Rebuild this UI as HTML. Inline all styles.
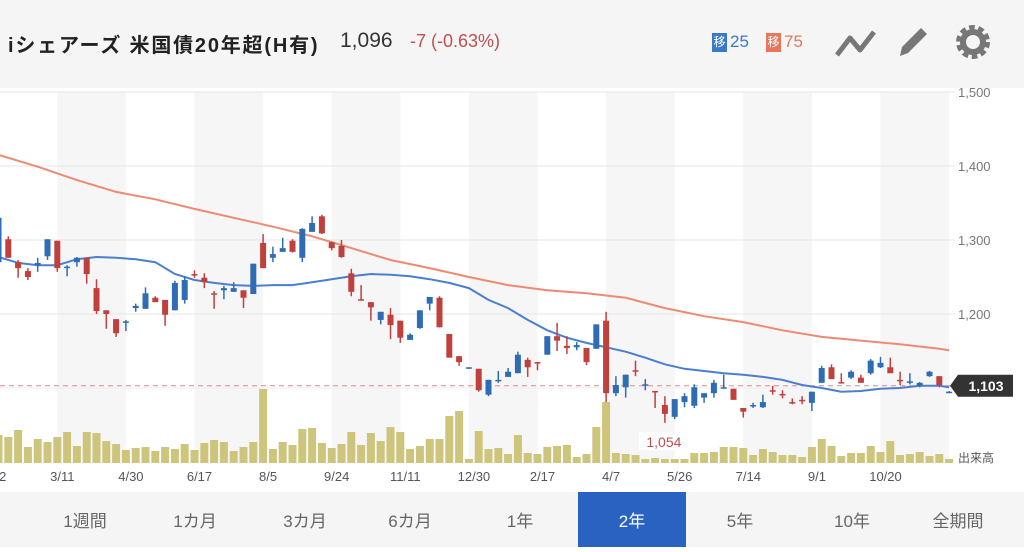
<!DOCTYPE html>
<html><head><meta charset="utf-8">
<style>
html,body{margin:0;padding:0;width:1024px;height:547px;overflow:hidden;background:#fff;font-family:"Liberation Sans","Noto Sans CJK JP",sans-serif;}
#hdr{position:absolute;left:0;top:0;width:1024px;height:88px;background:#f5f5f5;}
#title{position:absolute;left:8px;top:29px;font-size:20px;letter-spacing:1.8px;font-weight:bold;color:#222;white-space:nowrap;}
#price{position:absolute;left:340px;top:29px;font-size:21px;color:#333;}
#chg{position:absolute;left:410px;top:31px;font-size:18px;color:#c0504d;}
.badge{position:absolute;top:33px;width:15px;height:19px;color:#fff;font-size:12px;line-height:19px;text-align:center;}
.bn{position:absolute;top:32px;font-size:17px;}
#tabs{position:absolute;left:0;top:492px;width:1024px;height:55px;background:#f5f5f5;}
.tab{position:absolute;top:0;height:55px;line-height:60px;font-size:17px;color:#666;text-align:center;width:108px;}
.tab.on{background:#2a62c2;color:#fff;}
svg{position:absolute;left:0;top:0;}
</style></head><body>
<div id="hdr">
<div id="title">iシェアーズ 米国債20年超(H有)</div>
<div id="price">1,096</div>
<div id="chg">-7 (-0.63%)</div>
<div class="badge" style="left:712px;background:#3a78c9">移</div>
<div class="bn" style="left:730px;color:#3a78c9">25</div>
<div class="badge" style="left:766px;background:#e8765c">移</div>
<div class="bn" style="left:784px;color:#e8765c">75</div>
<svg width="1024" height="88" style="position:absolute;left:0;top:0">
<polyline points="837,55 850,38 860,50 874,32" fill="none" stroke="#777" stroke-width="5" stroke-linejoin="round"/>
<g><polygon points="900,56 902,47 921,28 927,34 908,53" fill="#777"/></g>
<g><circle cx="973" cy="42" r="13" fill="none" stroke="#777" stroke-width="8" stroke-dasharray="5 3.2"/><circle cx="973" cy="42" r="10" fill="none" stroke="#777" stroke-width="6"/></g>
</svg>
</div>
<svg id="chart" width="1024" height="492"></svg>
<div id="tabs">
<div class="tab" style="left:31px">1週間</div>
<div class="tab" style="left:141px">1カ月</div>
<div class="tab" style="left:251px">3カ月</div>
<div class="tab" style="left:356px">6カ月</div>
<div class="tab" style="left:466px">1年</div>
<div class="tab on" style="left:578px">2年</div>
<div class="tab" style="left:686px">5年</div>
<div class="tab" style="left:798px">10年</div>
<div class="tab" style="left:904px">全期間</div>
</div>
<script>
const openVals=[1270,1301,1270,1258,1266,1278,1299,1262,1270,1276,1235,1205,1193,1188,1208,1207,1222,1219,1205,1219,1254,1249,1228,1232,1230,1232,1227,1296,1276,1284,1299,1276,1311,1332,1297,1292,1255,1220,1216,1192,1199,1191,1165,1181,1214,1222,1173,1143,1126,1126,1091,1109,1115,1120,1138,1135,1145,1170,1157,1155,1154,1153,1191,1093,1101,1124,1103,1096,1077,1061,1081,1076,1087,1093,1100,1099,1073,1075,1074,1097,1092,1081,1084,1080,1107,1128,1108,1114,1114,1120,1128,1128,1111,1108,1103,1116,1116,1094];
const closeVals=[1330,1276,1262,1250,1269,1301,1262,1264,1276,1254,1204,1200,1174,1190,1211,1228,1216,1199,1242,1246,1253,1243,1226,1235,1235,1222,1268,1262,1281,1289,1284,1315,1323,1309,1289,1277,1230,1218,1209,1203,1185,1168,1172,1205,1223,1182,1141,1135,1128,1097,1111,1111,1122,1145,1128,1134,1170,1164,1154,1158,1135,1186,1093,1104,1118,1122,1105,1095,1065,1085,1089,1101,1093,1107,1101,1084,1068,1077,1081,1096,1091,1080,1083,1095,1127,1112,1107,1122,1107,1137,1134,1120,1110,1109,1107,1122,1104,1095];
const highVals=[1334,1305,1273,1262,1276,1301,1299,1266,1277,1276,1247,1205,1193,1192,1214,1236,1224,1219,1245,1251,1259,1255,1231,1238,1243,1232,1268,1308,1291,1303,1301,1316,1332,1334,1298,1300,1261,1239,1216,1203,1208,1191,1174,1205,1223,1224,1173,1143,1128,1126,1111,1123,1127,1149,1141,1135,1170,1188,1170,1162,1154,1186,1203,1116,1118,1137,1112,1096,1089,1085,1093,1105,1093,1111,1118,1099,1073,1080,1091,1103,1097,1086,1089,1095,1130,1132,1120,1124,1118,1139,1142,1141,1122,1120,1108,1123,1116,1096];
const lowVals=[1268,1276,1249,1246,1257,1273,1257,1251,1264,1241,1200,1180,1169,1177,1203,1207,1216,1184,1205,1214,1249,1235,1207,1220,1230,1208,1227,1262,1270,1284,1283,1270,1311,1308,1286,1276,1224,1218,1191,1186,1166,1161,1165,1180,1205,1182,1141,1130,1126,1095,1089,1107,1115,1120,1115,1124,1145,1150,1146,1151,1131,1153,1081,1089,1087,1116,1097,1073,1053,1058,1074,1073,1080,1087,1099,1084,1060,1073,1073,1091,1086,1078,1078,1069,1107,1112,1107,1112,1107,1118,1127,1120,1104,1105,1101,1115,1101,1093];
const volumes=[28,26,33,16,24,21,26,31,17,31,30,22,19,13,15,16,12,16,14,19,13,20,23,21,12,16,21,74,14,21,18,34,35,20,15,19,31,18,30,22,36,31,14,17,24,24,47,52,4,32,14,15,9,28,10,9,16,17,18,6,9,36,61,10,9,8,4,5,4,4,4,10,10,11,16,16,15,8,14,11,8,8,6,16,24,17,7,10,10,17,11,22,8,9,11,7,9,4];
const ma25Idx=[0,2,4,6,8,10,12,14,16,18,20,22,24,26,28,30,32,34,36,38,40,42,44,46,48,50,52,54,56,58,60,62,64,66,68,70,72,74,76,78,80,82,84,86,88,90,92,94,96,97];
const ma25Vals=[1277,1269,1266,1266,1274,1277,1276,1274,1270,1254,1246,1242,1239,1238,1239,1239,1243,1247,1251,1254,1253,1251,1247,1242,1235,1219,1208,1192,1178,1168,1161,1155,1149,1141,1132,1126,1123,1120,1118,1115,1111,1104,1100,1095,1096,1099,1100,1103,1103,1101];
const ma75Idx=[0,4,8,12,16,20,24,28,32,36,40,44,48,52,56,60,64,68,72,76,80,84,88,92,96,97];
const ma75Vals=[1415,1399,1381,1365,1355,1342,1330,1318,1305,1289,1273,1262,1250,1239,1232,1228,1222,1208,1197,1189,1178,1169,1164,1159,1153,1151];
const yTicks=[1500,1400,1300,1200];
const yTickLabels=["1,500","1,400","1,300","1,200"];
const dateIdx=[-1,6,13,20,27,34,41,48,55,62,69,76,83,90];
const dateLabels=["2/12","3/11","4/30","6/17","8/5","9/24","11/11","12/30","2/17","4/7","5/26","7/14","9/1","10/20"];
const lastPrice=1103;
const lowPrice=1054;
const lowIdx=68;

const NS="http://www.w3.org/2000/svg";
const svg=document.getElementById('chart');
const PLOT_R=955;
function x(i){return -1.5+9.8*i;}
function y(p){return 314-(p-1200)*0.74;}
function vh(v){return v*1.0;}
const VBASE=463;
function mk(tag,attrs,parent){const e=document.createElementNS(NS,tag);for(const k in attrs)e.setAttribute(k,attrs[k]);(parent||svg).appendChild(e);return e;}

let bg=mk('rect',{x:0,y:88,width:1024,height:404,fill:'#fff'});


for(let k=1;k<dateIdx.length;k+=2){
  const x0=x(dateIdx[k]), x1=(k+1<dateIdx.length)?x(dateIdx[k+1]):x(dateIdx[k])+68.6;
  const b=mk('rect',{x:x0,y:92,width:Math.min(x1,PLOT_R)-x0,height:371,fill:'#f6f6f6'});
  
  
}
yTicks.forEach((t,j)=>{
  const l=mk('line',{x1:0,x2:PLOT_R,y1:y(t),y2:y(t),stroke:'#e6e6e6','stroke-width':1});
  
  
  const tx=mk('text',{x:958,y:y(t)+5,'font-size':13,fill:'#777'});
  tx.textContent=yTickLabels[j];
  
  
});
let gl=mk('line',{x1:0,x2:PLOT_R,y1:y(1100),y2:y(1100),stroke:'#eee','stroke-width':1});


volumes.forEach((v,i)=>{
  const r=mk('rect',{x:x(i)-4,y:VBASE-vh(v),width:8,height:vh(v),fill:'#cdc57c'});
  
  
});
dateIdx.forEach((d,j)=>{
  const t=mk('text',{x:x(d)+5,y:481,'font-size':13,fill:'#555','text-anchor':'middle'});
  t.textContent=dateLabels[j];
  
  
});
let vt=mk('text',{x:958,y:462,'font-size':12,fill:'#555'});
vt.textContent='出来高';


let dl=mk('line',{x1:0,x2:PLOT_R,y1:y(lastPrice),y2:y(lastPrice),stroke:'#e08a8a','stroke-width':1,'stroke-dasharray':'5 4'});


function path(idx,vals){return idx.map((d,j)=>(j?'L':'M')+x(d).toFixed(1)+','+y(vals[j]).toFixed(1)).join(' ');}
let m75=mk('path',{d:path(ma75Idx,ma75Vals),fill:'none',stroke:'#ee8a72','stroke-width':2});


let m25=mk('path',{d:path(ma25Idx,ma25Vals),fill:'none',stroke:'#4a7fd0','stroke-width':2});


openVals.forEach((o,i)=>{
  const c=closeVals[i], up=c>=o, col=up?'#2e6db4':'#c0403d';
  const g=mk('g',{});
  
  
  mk('line',{x1:x(i),x2:x(i),y1:y(highVals[i]),y2:y(lowVals[i]),stroke:col,'stroke-width':1.5},g);
  const top=y(Math.max(o,c)), bot=y(Math.min(o,c));
  mk('rect',{x:x(i)-3,y:top,width:6,height:Math.max(bot-top,1.5),fill:col},g);
});
let lb=mk('rect',{x:x(lowIdx)-26,y:432,width:50,height:18,fill:'#fff'});


let lt=mk('text',{x:x(lowIdx)-1,y:447,'font-size':14,fill:'#c0504d','text-anchor':'middle'});
lt.textContent=lowPrice.toLocaleString('en-US');


let tag=mk('path',{d:`M950,${y(lastPrice)} L958,${y(lastPrice)-11} L1013,${y(lastPrice)-11} L1013,${y(lastPrice)+11} L958,${y(lastPrice)+11} Z`,fill:'#333'});


let tt=mk('text',{x:986,y:y(lastPrice)+5,'font-size':14,'font-weight':'bold',fill:'#fff','text-anchor':'middle'});
tt.textContent=lastPrice.toLocaleString('en-US');


</script>
</body></html>
